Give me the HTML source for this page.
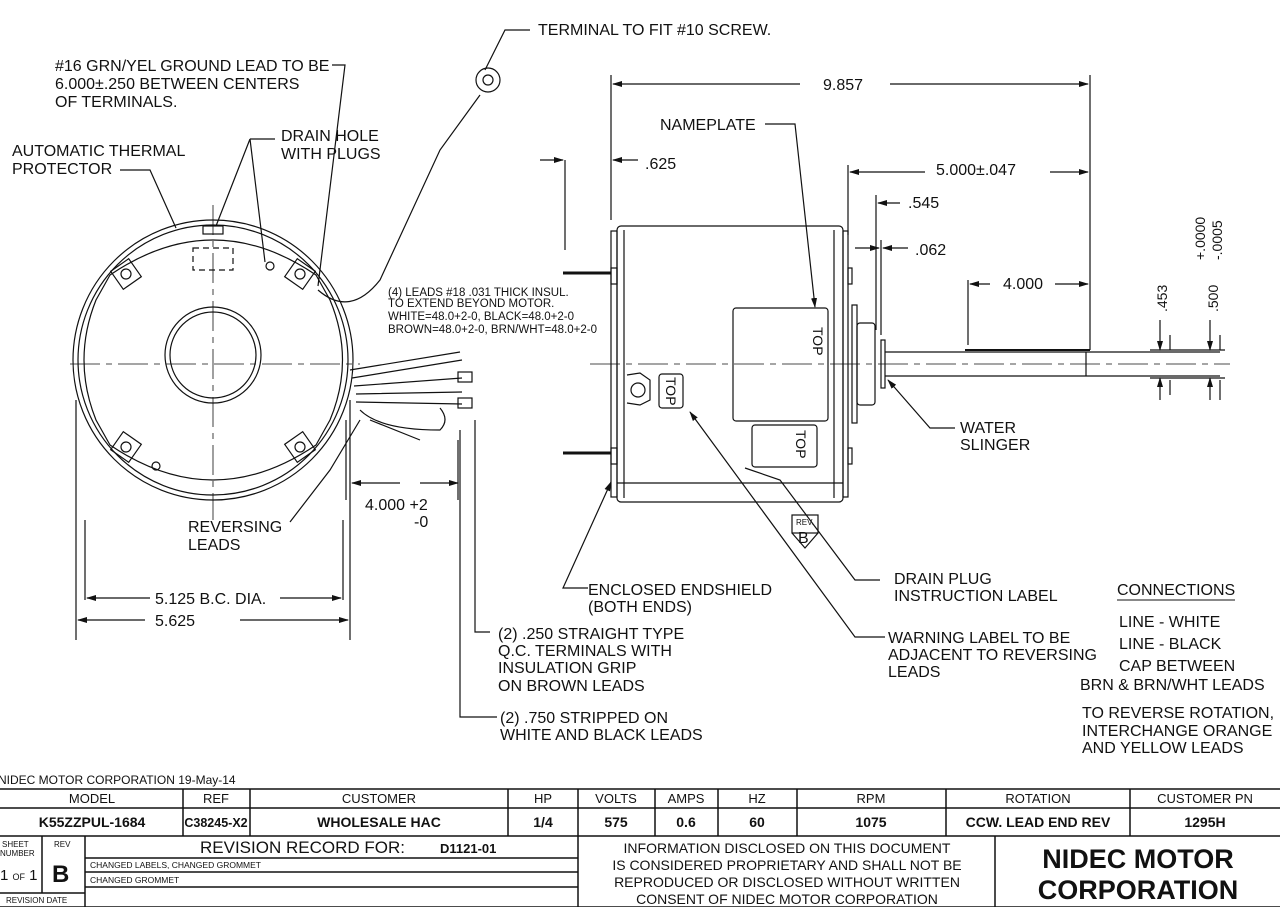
<!DOCTYPE html>
<html><head><style>
body{margin:0;background:#fff;}
svg{display:block;font-family:"Liberation Sans",Arial,sans-serif;}
text{fill:#111;}
</style></head><body>
<svg width="1280" height="907" viewBox="0 0 1280 907" xmlns="http://www.w3.org/2000/svg">
<defs>
<marker id="a" markerWidth="10" markerHeight="8" refX="9" refY="4" orient="auto" markerUnits="userSpaceOnUse"><path d="M0,1 L10,4 L0,7 z" fill="#111"/></marker>
</defs>
<g stroke="#111" fill="none" stroke-width="1.2">
<circle cx="213" cy="360" r="140"/>
<circle cx="213" cy="360" r="135"/>
<path d="M110,275 Q213,205 316,275 L330,300 Q355,360 330,420 L316,445 Q213,515 110,445 L96,420 Q72,360 96,300 Z"/>
<circle cx="213" cy="355" r="48"/>
<circle cx="213" cy="355" r="43"/>
<rect x="115" y="263" width="22" height="22" transform="rotate(-35 126 274)"/>
<circle cx="126" cy="274" r="5"/>
<rect x="289" y="263" width="22" height="22" transform="rotate(35 300 274)"/>
<circle cx="300" cy="274" r="5"/>
<rect x="115" y="436" width="22" height="22" transform="rotate(35 126 447)"/>
<circle cx="126" cy="447" r="5"/>
<rect x="289" y="436" width="22" height="22" transform="rotate(-35 300 447)"/>
<circle cx="300" cy="447" r="5"/>
<circle cx="270" cy="266" r="4"/>
<circle cx="156" cy="466" r="4"/>
<rect x="203" y="226" width="20" height="8"/>
<rect x="193" y="248" width="40" height="22" stroke-dasharray="6,4"/>
<path d="M70,364 H360 M213,205 V520" stroke-dasharray="30,6,6,6" stroke-width="0.8"/>
<path d="M350,370 L460,352 M352,378 L462,360 M354,386 L462,378 M356,394 L462,392 M356,402 L462,404"/>
<rect x="458" y="372" width="14" height="10"/><rect x="458" y="398" width="14" height="10"/>
<path d="M360,410 Q380,430 440,430 Q450,420 440,408 M370,420 L420,440"/>
<path d="M318,290 Q350,318 380,280 L440,150 L480,95"/>
<circle cx="488" cy="80" r="12"/><circle cx="488" cy="80" r="5"/>
<path d="M485,70 L505,30 H530"/>
<path d="M76,400 V640 M350,400 V640 M85,600 V520 M343,600 V520 M346,420 V500"/>
<path d="M150,598 H87" marker-end="url(#a)"/><path d="M280,598 H341" marker-end="url(#a)"/>
<path d="M145,620 H78" marker-end="url(#a)"/><path d="M240,620 H348" marker-end="url(#a)"/>
<path d="M400,483 H352" marker-end="url(#a)"/><path d="M420,483 H458" marker-end="url(#a)"/>
<path d="M458,440 V500"/>
<path d="M120,170 H150 L176,228"/>
<path d="M250,139 L216,226 M250,139 L265,262 M250,139 H275"/>
<path d="M332,65 H345 L318,286"/>
<path d="M290,522 L330,470 L360,420"/>
<path d="M490,632 H475 V420"/><path d="M497,717 H460 V430"/>
<rect x="617" y="226" width="226" height="276" rx="4"/>
<path d="M624,230 V498 M834,230 V498 M617,483 H843"/>
<rect x="611" y="231" width="6" height="266"/>
<rect x="843" y="231" width="5" height="266"/>
<rect x="848" y="268" width="4" height="16"/><rect x="848" y="448" width="4" height="16"/>
<rect x="611" y="268" width="6" height="16"/><rect x="611" y="448" width="6" height="16"/>
<rect x="852" y="305" width="5" height="118"/>
<rect x="857" y="323" width="18" height="82" rx="3"/>
<rect x="881" y="340" width="4" height="48"/>
<path d="M885,352 H1220 M885,376 H1220 M1086,352 V376"/>
<path d="M965,350 H1090" stroke-width="2"/>
<rect x="733" y="308" width="95" height="113" rx="3"/>
<rect x="752" y="425" width="65" height="42" rx="3"/>
<rect x="659" y="374" width="24" height="34" rx="3"/>
<path d="M627,375 L640,373 L650,380 V400 L640,405 L627,403"/><circle cx="638" cy="390" r="7"/>
<path d="M590,364 H1230" stroke-dasharray="30,6,6,6" stroke-width="0.8"/>
<g stroke-width="3"><path d="M563,273 H611 M563,453 H611"/></g>
<path d="M611,75 V220 M1090,75 V350 M565,160 V250 M848,165 V235 M876,195 V330 M881,240 V335 M968,280 V345 M1170,335 V350 M1170,380 V395 M1220,335 V350 M1220,380 V400"/>
<path d="M800,84 H613" marker-end="url(#a)"/><path d="M890,84 H1088" marker-end="url(#a)"/>
<path d="M540,160 H563" marker-end="url(#a)"/><path d="M638,160 H613" marker-end="url(#a)"/>
<path d="M925,172 H850" marker-end="url(#a)"/><path d="M1050,172 H1088" marker-end="url(#a)"/>
<path d="M900,203 H878" marker-end="url(#a)"/>
<path d="M855,248 H879" marker-end="url(#a)"/><path d="M908,248 H883" marker-end="url(#a)"/>
<path d="M990,284 H970" marker-end="url(#a)"/><path d="M1055,284 H1088" marker-end="url(#a)"/>
<path d="M1160,320 V350" marker-end="url(#a)"/><path d="M1160,400 V378" marker-end="url(#a)"/>
<path d="M1210,320 V350" marker-end="url(#a)"/><path d="M1210,400 V378" marker-end="url(#a)"/>
<path d="M1150,350 H1225 M1150,378 H1225"/>
<path d="M765,124 H795 L815,307" marker-end="url(#a)"/>
<path d="M955,428 L930,428 L888,380" marker-end="url(#a)"/>
<path d="M880,580 H855 L780,480 L745,468"/>
<path d="M885,637 H855 L690,412" marker-end="url(#a)"/>
<path d="M588,588 H563 L611,482" marker-end="url(#a)"/>
<rect x="792" y="515" width="26" height="18"/>
<path d="M792,533 L805,548 L818,533"/>
</g>
<g font-size="16">
<text x="538" y="35">TERMINAL TO FIT #10 SCREW.</text>
<text x="55" y="71">#16 GRN/YEL GROUND LEAD TO BE</text>
<text x="55" y="89">6.000±.250 BETWEEN CENTERS</text>
<text x="55" y="107">OF TERMINALS.</text>
<text x="12" y="156">AUTOMATIC THERMAL</text>
<text x="12" y="174">PROTECTOR</text>
<text x="281" y="141">DRAIN HOLE</text>
<text x="281" y="159">WITH PLUGS</text>
<text x="188" y="532">REVERSING</text>
<text x="188" y="550">LEADS</text>
<text x="155" y="604">5.125 B.C. DIA.</text>
<text x="155" y="626">5.625</text>
<text x="365" y="510">4.000 +2</text>
<text x="414" y="527">-0</text>
<text x="823" y="90">9.857</text>
<text x="660" y="130">NAMEPLATE</text>
<text x="645" y="169">.625</text>
<text x="936" y="175">5.000±.047</text>
<text x="908" y="208">.545</text>
<text x="915" y="255">.062</text>
<text x="1003" y="289">4.000</text>
<text x="960" y="433">WATER</text>
<text x="960" y="450">SLINGER</text>
<text x="588" y="595">ENCLOSED ENDSHIELD</text>
<text x="588" y="612">(BOTH ENDS)</text>
<text x="894" y="584">DRAIN PLUG</text>
<text x="894" y="601">INSTRUCTION LABEL</text>
<text x="888" y="643">WARNING LABEL TO BE</text>
<text x="888" y="660">ADJACENT TO REVERSING</text>
<text x="888" y="677">LEADS</text>
<text x="1117" y="595">CONNECTIONS</text>
<path d="M1117,600 H1235" stroke="#111"/>
<text x="1119" y="627">LINE - WHITE</text>
<text x="1119" y="649">LINE - BLACK</text>
<text x="1119" y="671">CAP BETWEEN</text>
<text x="1080" y="690">BRN &amp; BRN/WHT LEADS</text>
<text x="1082" y="718">TO REVERSE ROTATION,</text>
<text x="1082" y="736">INTERCHANGE ORANGE</text>
<text x="1082" y="753">AND YELLOW LEADS</text>
<text x="498" y="639">(2) .250 STRAIGHT TYPE</text>
<text x="498" y="656">Q.C. TERMINALS WITH</text>
<text x="498" y="673">INSULATION GRIP</text>
<text x="498" y="691">ON BROWN LEADS</text>
<text x="500" y="723">(2) .750 STRIPPED ON</text>
<text x="500" y="740">WHITE AND BLACK LEADS</text>
</g>
<g font-size="11.5">
<text x="388" y="296">(4) LEADS #18 .031 THICK INSUL.</text>
<text x="388" y="307">TO EXTEND BEYOND MOTOR.</text>
<text x="388" y="320">WHITE=48.0+2-0, BLACK=48.0+2-0</text>
<text x="388" y="333">BROWN=48.0+2-0, BRN/WHT=48.0+2-0</text>
</g>
<g font-size="14">
<text transform="translate(813,327) rotate(90)">TOP</text>
<text transform="translate(796,430) rotate(90)">TOP</text>
<text transform="translate(666,377) rotate(90)">TOP</text>
<text transform="translate(1167,312) rotate(-90)">.453</text>
<text transform="translate(1218,312) rotate(-90)">.500</text>
<text transform="translate(1205,260) rotate(-90)">+.0000</text>
<text transform="translate(1222,260) rotate(-90)">-.0005</text>
<text x="796" y="525" font-size="8">REV.</text>
<text x="798" y="543" font-size="16">B</text>
</g>
<text x="-2" y="784" font-size="12">NIDEC MOTOR CORPORATION 19-May-14</text>
<g stroke="#111" fill="none" stroke-width="1.5">
<path d="M0,789 H1280 M0,808 H1280 M0,836 H1280 M0,907 H1280"/>
<path d="M183,789 V836 M250,789 V836 M508,789 V836 M578,789 V907 M655,789 V836 M718,789 V836 M797,789 V836 M946,789 V836 M1130,789 V836 M995,836 V907"/>
<path d="M42,836 V893 M85,836 V907 M0,893 H85 M85,858 H578 M85,872 H578 M85,887 H578"/>
</g>
<g font-size="13" text-anchor="middle">
<text x="92" y="803">MODEL</text><text x="216" y="803">REF</text><text x="379" y="803">CUSTOMER</text><text x="543" y="803">HP</text><text x="616" y="803">VOLTS</text><text x="686" y="803">AMPS</text><text x="757" y="803">HZ</text><text x="871" y="803">RPM</text><text x="1038" y="803">ROTATION</text><text x="1205" y="803">CUSTOMER PN</text>
</g>
<g font-size="14" font-weight="bold" text-anchor="middle">
<text x="92" y="827">K55ZZPUL-1684</text><text x="216" y="827" font-size="12.5">C38245-X2</text><text x="379" y="827">WHOLESALE HAC</text><text x="543" y="827">1/4</text><text x="616" y="827">575</text><text x="686" y="827">0.6</text><text x="757" y="827">60</text><text x="871" y="827">1075</text><text x="1038" y="827">CCW. LEAD END REV</text><text x="1205" y="827">1295H</text>
</g>
<text x="200" y="853" font-size="17">REVISION RECORD FOR:</text>
<text x="440" y="853" font-size="13" font-weight="bold">D1121-01</text>
<text x="90" y="868" font-size="8.5">CHANGED LABELS, CHANGED GROMMET</text>
<text x="90" y="883" font-size="8.5">CHANGED GROMMET</text>
<text x="2" y="847" font-size="8">SHEET</text><text x="0" y="856" font-size="8">NUMBER</text>
<text x="0" y="880" font-size="15">1 <tspan font-size="9">OF</tspan> 1</text>
<text x="54" y="847" font-size="8">REV</text>
<text x="52" y="882" font-size="24" font-weight="bold">B</text>
<text x="6" y="903" font-size="8">REVISION DATE</text>
<g font-size="14" text-anchor="middle">
<text x="787" y="853">INFORMATION DISCLOSED ON THIS DOCUMENT</text>
<text x="787" y="870">IS CONSIDERED PROPRIETARY AND SHALL NOT BE</text>
<text x="787" y="887">REPRODUCED OR DISCLOSED WITHOUT WRITTEN</text>
<text x="787" y="904">CONSENT OF NIDEC MOTOR CORPORATION</text>
</g>
<g font-size="27" font-weight="bold" text-anchor="middle">
<text x="1138" y="868">NIDEC MOTOR</text>
<text x="1138" y="899">CORPORATION</text>
</g>
</svg>
</body></html>
